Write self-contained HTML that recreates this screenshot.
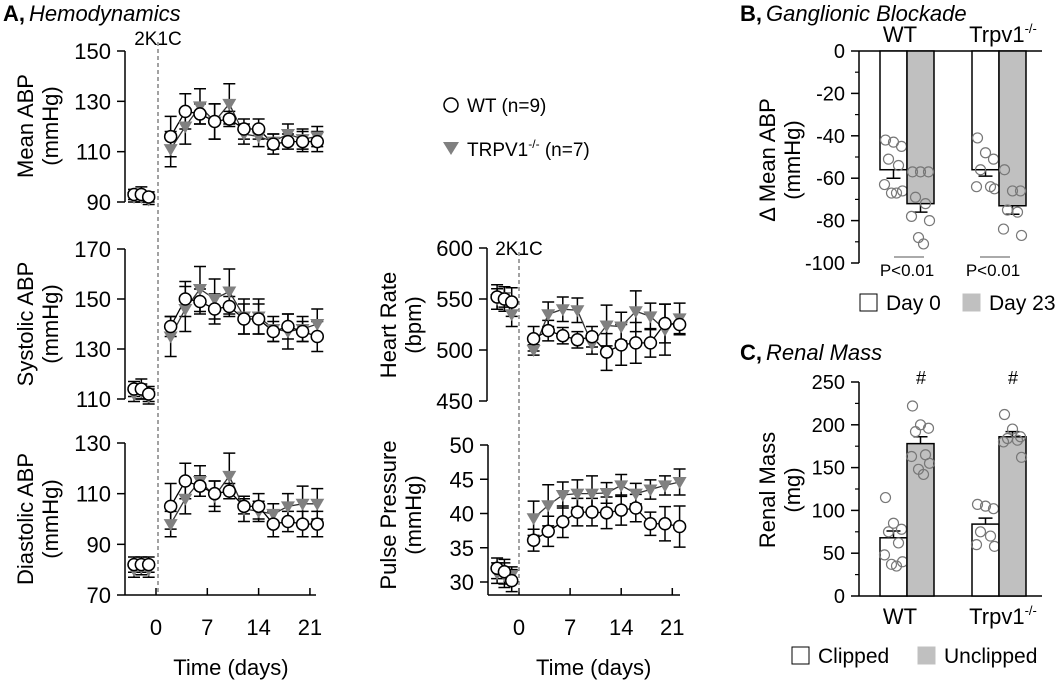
<!DOCTYPE html>
<html><head><meta charset="utf-8">
<style>
html,body{margin:0;padding:0;background:#fff;}
svg{display:block;font-family:"Liberation Sans",Arial,sans-serif;}
</style></head>
<body>
<svg id="fig" width="1059" height="682" viewBox="0 0 1059 682" xmlns="http://www.w3.org/2000/svg">
<text x="3" y="21" font-size="22"><tspan font-weight="bold">A,</tspan><tspan font-style="italic" dx="4">Hemodynamics</tspan></text>
<text x="740" y="21" font-size="22"><tspan font-weight="bold">B,</tspan><tspan font-style="italic" dx="4">Ganglionic Blockade</tspan></text>
<text x="740" y="360" font-size="22"><tspan font-weight="bold">C,</tspan><tspan font-style="italic" dx="4">Renal Mass</tspan></text>
<g>
  <circle cx="451" cy="105" r="7" fill="#fff" stroke="#000" stroke-width="1.5"/>
  <text x="467" y="112" font-size="19">WT (n=9)</text>
  <path d="M443,142 L459,142 L451,155 Z" fill="#808080"/>
  <text x="467" y="156" font-size="19">TRPV1<tspan font-size="12" dy="-8">-/-</tspan><tspan dy="8"> (n=7)</tspan></text>
</g>
<g id="gA"></g>
<g id="gB"></g>
<g id="gC"></g>
</svg>
<script>
// ---- Panel A data ----
const baseDays = [-3, -2, -1];
const postDays = [2, 4, 6, 8, 10, 12, 14, 16, 18, 20, 22];
const xTicks = [0, 7, 14, 21];

const mapWtBase = [93, 93, 92];
const mapWtBaseErr = [2, 3, 2];
const mapTrBase = [92, 92, 91];
const mapTrBaseErr = [2, 2, 2];
const mapWtPost = [116, 126, 125, 122, 123, 119, 119, 113, 114, 114, 114];
const mapWtPostErr = [8, 7, 4, 7, 3, 4, 4, 4, 3, 4, 4];
const mapTrPost = [111, 120, 128, 122, 129, 117, 116, 114, 117, 115, 116];
const mapTrPostErr = [7, 7, 7, 7, 8, 4, 4, 3, 4, 4, 4];
const mapTicks = [150, 130, 110, 90];

const sysWtBase = [114, 114, 112];
const sysWtBaseErr = [3, 4, 3];
const sysTrBase = [112, 113, 111];
const sysTrBaseErr = [3, 3, 3];
const sysWtPost = [139, 150, 149, 146, 147, 142, 142, 137, 139, 137, 135];
const sysWtPostErr = [4, 7, 5, 6, 4, 6, 6, 4, 5, 4, 6];
const sysTrPost = [135, 146, 154, 150, 153, 143, 143, 138, 137, 138, 140];
const sysTrPostErr = [8, 9, 9, 8, 9, 7, 7, 5, 7, 5, 6];
const sysTicks = [170, 150, 130, 110];

const diaWtBase = [82, 82, 82];
const diaWtBaseErr = [3, 3, 3];
const diaTrBase = [80, 81, 80];
const diaTrBaseErr = [3, 3, 3];
const diaWtPost = [105, 115, 113, 110, 111, 105, 105, 98, 99, 98, 98];
const diaWtPostErr = [9, 7, 4, 5, 3, 3, 5, 5, 4, 5, 5];
const diaTrPost = [98, 108, 115, 109, 117, 104, 103, 102, 105, 106, 106];
const diaTrPostErr = [5, 6, 6, 6, 9, 5, 4, 4, 5, 7, 6];
const diaTicks = [130, 110, 90, 70];

const hrWtBase = [552, 550, 547];
const hrWtBaseErr = [12, 12, 14];
const hrTrBase = [550, 552, 535];
const hrTrBaseErr = [10, 10, 12];
const hrWtPost = [511, 519, 514, 510, 513, 498, 505, 507, 507, 526, 525];
const hrWtPostErr = [12, 10, 8, 8, 10, 18, 20, 20, 14, 19, 10];
const hrTrPost = [500, 535, 540, 539, 506, 524, 523, 538, 533, 520, 531];
const hrTrPostErr = [5, 12, 12, 12, 10, 20, 14, 20, 13, 25, 15];
const hrTicks = [600, 550, 500, 450];

const ppWtBase = [32, 31.5, 30.2];
const ppWtBaseErr = [1.5, 1.8, 1.6];
const ppTrBase = [31.3, 31, 31];
const ppTrBaseErr = [1.5, 1.8, 1.2];
const ppWtPost = [36.1, 37.4, 38.8, 40.2, 40.2, 40.1, 40.5, 40.8, 38.5, 38.5, 38.1];
const ppWtPostErr = [1.6, 2.2, 2.3, 2, 2, 2.3, 2.2, 2, 1.7, 2.5, 3];
const ppTrPost = [39.3, 41.2, 42.7, 42.9, 42.9, 43, 44.1, 42.9, 43.5, 44.1, 44.6];
const ppTrPostErr = [2.5, 3, 1.9, 2, 2.6, 1.5, 1.6, 1.5, 1.4, 1.4, 1.9];
const ppTicks = [50, 45, 40, 35, 30];

// ---- Panel B data ----
const groups = ["WT", "Trpv1"];
const gbMeansDay0 = [-56, -56];
const gbErrDay0 = [4, 3];
const gbMeansDay23 = [-72, -73];
const gbErrDay23 = [4, 4];
const gbDotsWtDay0 = [-42, -43, -45, -51, -54, -63, -66, -67, -67];
const gbDotsWtDay23 = [-57, -57, -57, -69, -72, -78, -80, -88, -91];
const gbDotsTrDay0 = [-41, -48, -51, -56, -64, -64, -65];
const gbDotsTrDay23 = [-56, -66, -66, -75, -76, -84, -87];
const gbTicks = [0, -20, -40, -60, -80, -100];

// ---- Panel C data ----
const rmMeansClipped = [68, 84];
const rmErrClipped = [8, 7];
const rmMeansUnclipped = [178, 186];
const rmErrUnclipped = [8, 6];
const rmDotsWtClipped = [115, 85, 78, 75, 62, 48, 40, 37, 35];
const rmDotsWtUnclipped = [222, 200, 196, 192, 165, 163, 155, 148, 142];
const rmDotsTrClipped = [107, 105, 102, 75, 70, 60, 58];
const rmDotsTrUnclipped = [212, 195, 186, 184, 182, 180, 162];
const rmTicks = [250, 200, 150, 100, 50, 0];

const NS = "http://www.w3.org/2000/svg";
function mk(parent, tag, attrs, txt) {
  const e = document.createElementNS(NS, tag);
  for (const k in attrs) e.setAttribute(k, attrs[k]);
  if (txt !== undefined) e.textContent = txt;
  parent.appendChild(e);
  return e;
}

const gA = document.getElementById('gA');

function linePanel(cfg) {
  const g = mk(gA, 'g', {});
  
  
  const y = v => cfg.yTop + (cfg.vMax - v) * (cfg.yBot - cfg.yTop) / (cfg.vMax - cfg.vMin);
  const x = cfg.x;
  const ax = mk(g, 'line', {x1: cfg.ax, x2: cfg.ax, y1: y(cfg.vMax), y2: cfg.axisBottom, stroke: '#000', 'stroke-width': 1.5});
  
  
  cfg.ticks.forEach(t => {
    mk(g, 'line', {x1: cfg.ax - 8, x2: cfg.ax, y1: y(t), y2: y(t), stroke: '#000', 'stroke-width': 1.5});
    const tl = mk(g, 'text', {x: cfg.ax - 14, y: y(t) + 8, 'font-size': 22, 'text-anchor': 'end'}, String(t));
    
    
  });
  const yt = mk(g, 'text', {transform: `translate(${cfg.lx},${cfg.ly}) rotate(-90)`, 'font-size': 22, 'text-anchor': 'middle'});
  
  
  mk(yt, 'tspan', {x: 0, y: 0}, cfg.title1);
  mk(yt, 'tspan', {x: 0, y: 25}, cfg.title2);
  if (cfg.xAxis) {
    const xa = mk(g, 'line', {x1: cfg.ax, x2: cfg.xEnd, y1: cfg.axisBottom, y2: cfg.axisBottom, stroke: '#000', 'stroke-width': 1.5});
    
    
    xTicks.forEach(t => {
      mk(g, 'line', {x1: x(t), x2: x(t), y1: cfg.axisBottom, y2: cfg.axisBottom - 7, stroke: '#000', 'stroke-width': 1.5});
      const xl = mk(g, 'text', {x: x(t), y: cfg.axisBottom + 40, 'font-size': 22, 'text-anchor': 'middle'}, String(t));
      
      
    });
    const xt = mk(g, 'text', {x: (x(0) + x(21)) / 2 - 2, y: cfg.axisBottom + 80, 'font-size': 22, 'text-anchor': 'middle'}, 'Time (days)');
    
    
  }
  const series = [
    {days: baseDays, v: cfg.trBase, e: cfg.trBaseErr, kind: 'tri'},
    {days: postDays, v: cfg.trPost, e: cfg.trPostErr, kind: 'tri'},
    {days: baseDays, v: cfg.wtBase, e: cfg.wtBaseErr, kind: 'circ'},
    {days: postDays, v: cfg.wtPost, e: cfg.wtPostErr, kind: 'circ'}
  ];
  series.forEach(s => {
    s.v.forEach((v, i) => {
      const cx = x(s.days[i]);
      const eb = mk(g, 'path', {d: `M${cx},${y(v - s.e[i])}V${y(v + s.e[i])}M${cx - 6},${y(v - s.e[i])}H${cx + 6}M${cx - 6},${y(v + s.e[i])}H${cx + 6}`, stroke: '#000', 'stroke-width': 1.5, fill: 'none'});
      
      
    });
  });
  series.forEach(s => {
    const pts = s.v.map((v, i) => `${x(s.days[i])},${y(v)}`).join(' ');
    const pl = mk(g, 'polyline', {points: pts, fill: 'none', stroke: s.kind === 'tri' ? '#333' : '#000', 'stroke-width': 1.3});
    
    
  });
  series.forEach(s => {
    s.v.forEach((v, i) => {
      const cx = x(s.days[i]), cy = y(v);
      let m;
      if (s.kind === 'tri') {
        m = mk(g, 'path', {d: `M${cx - 7},${cy - 5} L${cx + 7},${cy - 5} L${cx},${cy + 7} Z`, fill: '#808080'});
        
      } else {
        m = mk(g, 'circle', {cx: cx, cy: cy, r: 6, fill: '#fff', stroke: '#000', 'stroke-width': 1.5});
        
      }
      
    });
  });
}

const xL = d => 156 + d * 7.33;
const xR = d => 519 + d * 7.3;

linePanel({name: 'mean-abp-chart', x: xL, ax: 125, yTop: 51, yBot: 202, vMax: 150, vMin: 90, axisBottom: 202, ticks: mapTicks, lx: 33, ly: 126, title1: 'Mean ABP', title2: '(mmHg)', wtBase: mapWtBase, wtBaseErr: mapWtBaseErr, trBase: mapTrBase, trBaseErr: mapTrBaseErr, wtPost: mapWtPost, wtPostErr: mapWtPostErr, trPost: mapTrPost, trPostErr: mapTrPostErr});
linePanel({name: 'systolic-abp-chart', x: xL, ax: 125, yTop: 249, yBot: 399, vMax: 170, vMin: 110, axisBottom: 399, ticks: sysTicks, lx: 33, ly: 324, title1: 'Systolic ABP', title2: '(mmHg)', wtBase: sysWtBase, wtBaseErr: sysWtBaseErr, trBase: sysTrBase, trBaseErr: sysTrBaseErr, wtPost: sysWtPost, wtPostErr: sysWtPostErr, trPost: sysTrPost, trPostErr: sysTrPostErr});
linePanel({name: 'diastolic-abp-chart', x: xL, ax: 125, yTop: 443, yBot: 595, vMax: 130, vMin: 70, axisBottom: 595, xAxis: true, xEnd: 316, ticks: diaTicks, lx: 33, ly: 519, title1: 'Diastolic ABP', title2: '(mmHg)', wtBase: diaWtBase, wtBaseErr: diaWtBaseErr, trBase: diaTrBase, trBaseErr: diaTrBaseErr, wtPost: diaWtPost, wtPostErr: diaWtPostErr, trPost: diaTrPost, trPostErr: diaTrPostErr});
linePanel({name: 'heart-rate-chart', x: xR, ax: 487, yTop: 248, yBot: 401, vMax: 600, vMin: 450, axisBottom: 401, ticks: hrTicks, lx: 396, ly: 325, title1: 'Heart Rate', title2: '(bpm)', wtBase: hrWtBase, wtBaseErr: hrWtBaseErr, trBase: hrTrBase, trBaseErr: hrTrBaseErr, wtPost: hrWtPost, wtPostErr: hrWtPostErr, trPost: hrTrPost, trPostErr: hrTrPostErr});
linePanel({name: 'pulse-pressure-chart', x: xR, ax: 488, yTop: 445, yBot: 582, vMax: 50, vMin: 30, axisBottom: 595, xAxis: true, xEnd: 680, ticks: ppTicks, lx: 396, ly: 515, title1: 'Pulse Pressure', title2: '(mmHg)', wtBase: ppWtBase, wtBaseErr: ppWtBaseErr, trBase: ppTrBase, trBaseErr: ppTrBaseErr, wtPost: ppWtPost, wtPostErr: ppWtPostErr, trPost: ppTrPost, trPostErr: ppTrPostErr});

[[158, 30], [519, 240]].forEach(p => {
  const dl = mk(gA, 'line', {x1: p[0], x2: p[0], y1: p[1] + 12, y2: 595, stroke: '#444', 'stroke-width': 1, 'stroke-dasharray': '4,3'});
  
  
  const dt = mk(gA, 'text', {x: p[0], y: p[1] + 15, 'font-size': 19, 'text-anchor': 'middle'}, '2K1C');
  
  
});

// ---- Bar panels ----
const barX0 = [880, 972];
const barW = 27;
function jit(i) { return [-8, 0, 8, -5, 5, -9, 9, -2, 3][i % 9]; }
function barPanel(gid, cfg) {
  const g = document.getElementById(gid);
  const y = v => cfg.yTop + (cfg.vMax - v) * (cfg.yBot - cfg.yTop) / (cfg.vMax - cfg.vMin);
  const ax = mk(g, 'line', {x1: 859, x2: 859, y1: cfg.yTop, y2: cfg.yBot, stroke: '#000', 'stroke-width': 1.5});
  
  
  cfg.ticks.forEach(t => {
    mk(g, 'line', {x1: 851, x2: 859, y1: y(t), y2: y(t), stroke: '#000', 'stroke-width': 1.5});
    const tl = mk(g, 'text', {x: 845, y: y(t) + 7, 'font-size': 20, 'text-anchor': 'end'}, String(t));
    
    
  });
  for (let i = 0; i < cfg.ticks.length - 1; i++) {
    const mv = (cfg.ticks[i] + cfg.ticks[i + 1]) / 2;
    mk(g, 'line', {x1: 855, x2: 859, y1: y(mv), y2: y(mv), stroke: '#000', 'stroke-width': 1.2});
  }
  const xa = mk(g, 'line', {x1: 859, x2: 1042, y1: y(cfg.base), y2: y(cfg.base), stroke: '#000', 'stroke-width': 1.5});
  
  
  const yt = mk(g, 'text', {transform: `translate(${cfg.lx},${cfg.ly}) rotate(-90)`, 'font-size': 22, 'text-anchor': 'middle'});
  
  
  mk(yt, 'tspan', {x: 0, y: 0}, cfg.title1);
  mk(yt, 'tspan', {x: 0, y: 25}, cfg.title2);
  for (let gi = 0; gi < 2; gi++) {
    const bars = [
      {x: barX0[gi], m: cfg.m1[gi], e: cfg.e1[gi], fill: '#fff', dots: cfg.dots1[gi]},
      {x: barX0[gi] + barW, m: cfg.m2[gi], e: cfg.e2[gi], fill: '#c0c0c0', dots: cfg.dots2[gi]}
    ];
    bars.forEach((b, bi) => {
      const y0 = y(cfg.base), y1 = y(b.m);
      const r = mk(g, 'rect', {x: b.x, y: Math.min(y0, y1), width: barW, height: Math.abs(y1 - y0), fill: b.fill, stroke: '#000', 'stroke-width': 1.5});
      
      
      const cx = b.x + barW / 2;
      const ey = y(b.m + cfg.errDir * b.e);
      const eb = mk(g, 'path', {d: `M${cx},${y1}V${ey}M${cx - 7},${ey}H${cx + 7}`, stroke: '#000', 'stroke-width': 1.5, fill: 'none'});
      
      
      b.dots.forEach((d, di) => {
        const c = mk(g, 'circle', {cx: cx + jit(di), cy: y(d), r: 5, fill: 'none', stroke: '#777', 'stroke-width': 1.2});
        
        
      });
    });
  }
}

barPanel('gB', {yTop: 51, yBot: 263, vMax: 0, vMin: -100, base: 0, ticks: gbTicks, lx: 775, ly: 160, title1: 'Δ Mean ABP', title2: '(mmHg)', m1: gbMeansDay0, e1: gbErrDay0, m2: gbMeansDay23, e2: gbErrDay23, dots1: [gbDotsWtDay0, gbDotsTrDay0], dots2: [gbDotsWtDay23, gbDotsTrDay23], errDir: -1, keys: ['day0', 'day23']});
barPanel('gC', {yTop: 382, yBot: 596, vMax: 250, vMin: 0, base: 0, ticks: rmTicks, lx: 775, ly: 490, title1: 'Renal Mass', title2: '(mg)', m1: rmMeansClipped, e1: rmErrClipped, m2: rmMeansUnclipped, e2: rmErrUnclipped, dots1: [rmDotsWtClipped, rmDotsTrClipped], dots2: [rmDotsWtUnclipped, rmDotsTrUnclipped], errDir: 1, keys: ['clipped', 'unclipped']});

const fig = document.getElementById('fig');
function T(x, y, s, txt, name, anchor) {
  const t = document.createElementNS(NS, 'text');
  t.setAttribute('x', x); t.setAttribute('y', y); t.setAttribute('font-size', s);
  t.setAttribute('text-anchor', anchor || 'middle');
  t.textContent = txt;
  
  
  fig.appendChild(t);
  return t;
}
T(900, 42, 22, 'WT', 'group-label-wt');
const tb = T(1003, 42, 22, 'Trpv1', 'group-label-trpv1');
const sup1 = document.createElementNS(NS, 'tspan');
sup1.setAttribute('font-size', 13); sup1.setAttribute('dy', -9); sup1.textContent = '-/-';
tb.appendChild(sup1);
[[894, 924, 907], [980, 1010, 993]].forEach(p => {
  const l = document.createElementNS(NS, 'line');
  l.setAttribute('x1', p[0]); l.setAttribute('x2', p[1]); l.setAttribute('y1', 257); l.setAttribute('y2', 257);
  l.setAttribute('stroke', '#555'); l.setAttribute('stroke-width', 1);
  
  
  fig.appendChild(l);
  T(p[2], 276, 17, 'P<0.01', 'p-value-label');
});
T(921, 384, 18, '#', 'significance-marker-wt');
T(1013, 384, 18, '#', 'significance-marker-trpv1');
T(900, 624, 22, 'WT', 'x-label-wt');
const tc = T(1003, 624, 22, 'Trpv1', 'x-label-trpv1');
const sup2 = document.createElementNS(NS, 'tspan');
sup2.setAttribute('font-size', 13); sup2.setAttribute('dy', -9); sup2.textContent = '-/-';
tc.appendChild(sup2);
function LB(x, y, fill, label, name) {
  const r = document.createElementNS(NS, 'rect');
  r.setAttribute('x', x); r.setAttribute('y', y - 16); r.setAttribute('width', 17); r.setAttribute('height', 17);
  r.setAttribute('fill', fill); r.setAttribute('stroke', fill === '#fff' ? '#000' : '#c0c0c0'); r.setAttribute('stroke-width', 1);
  
  
  fig.appendChild(r);
  T(x + 26, y, 21, label, name + '-label', 'start');
}
LB(860, 310, '#fff', 'Day 0', 'legend-day0');
LB(963, 310, '#c0c0c0', 'Day 23', 'legend-day23');
LB(792, 663, '#fff', 'Clipped', 'legend-clipped');
LB(918, 663, '#c0c0c0', 'Unclipped', 'legend-unclipped');
</script>
</body></html>
